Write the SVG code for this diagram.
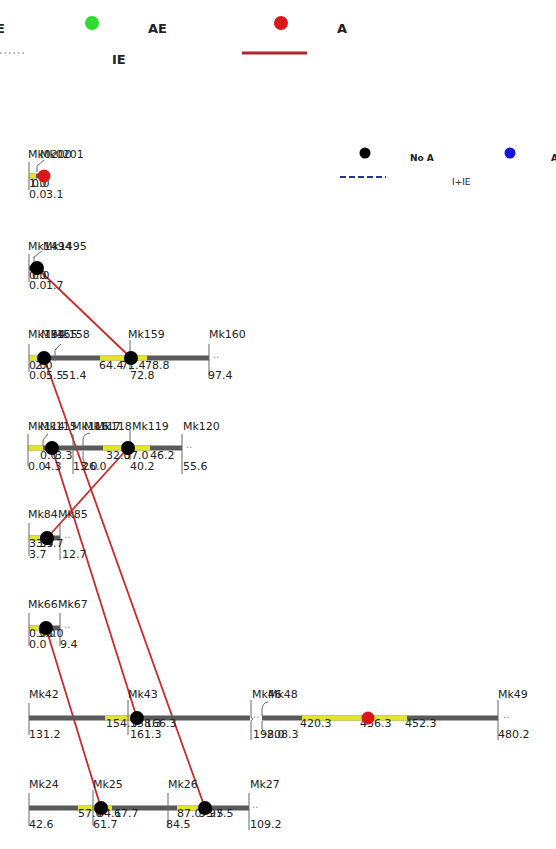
<svg xmlns="http://www.w3.org/2000/svg" width="556" height="849" viewBox="0 0 556 849">
<style>
.bar{fill:#5a5a5a}
.qtl{fill:#e4e42c}
.tk{stroke:#666;stroke-width:1;fill:none}
.t{font-family:"DejaVu Sans",Verdana,sans-serif;font-size:11px;fill:#222}
.lg{font-family:"DejaVu Sans",Verdana,sans-serif;font-size:13px;font-weight:bold;fill:#222}
.ls{font-family:"DejaVu Sans",Verdana,sans-serif;font-size:9px;fill:#222}
.dt{font-family:"DejaVu Sans",sans-serif;font-size:10px;fill:#888}
.dk{fill:#000}
.dr{fill:#d81818}
.link{stroke:#cc2a2a;stroke-width:1.8;fill:none}
</style>
<rect width="556" height="849" fill="#fff"/>
<g id="legend">
  <text class="lg" x="-4" y="33">E</text>
  <line x1="0" y1="53" x2="26" y2="53" stroke="#999" stroke-width="1.5" stroke-dasharray="1.5 3"/>
  <circle cx="92" cy="23" r="7" fill="#2ddc2d"/>
  <text class="lg" x="148" y="33">AE</text>
  <text class="lg" x="112" y="64" font-weight="normal">IE</text>
  <circle cx="281" cy="23" r="7" fill="#d81818"/>
  <text class="lg" x="337" y="33">A</text>
  <line x1="242" y1="53" x2="307" y2="53" stroke="#b02828" stroke-width="3"/>
  <circle cx="365" cy="153" r="5.5" fill="#000"/>
  <text class="ls" x="410" y="161" font-weight="bold">No A</text>
  <circle cx="510" cy="153" r="5.5" fill="#1414dc"/>
  <text class="ls" x="551" y="161" font-weight="bold">A</text>
  <line x1="340" y1="177" x2="386" y2="177" stroke="#223399" stroke-width="2" stroke-dasharray="6 3"/>
  <text class="ls" x="452" y="185">I+IE</text>
</g>
<g id="connectors">
  <line class="link" x1="37" y1="268" x2="131" y2="358"/>
  <line class="link" x1="44" y1="358" x2="205" y2="808"/>
  <line class="link" x1="52" y1="448" x2="137" y2="718"/>
  <line class="link" x1="128" y1="448" x2="47" y2="538"/>
  <line class="link" x1="46" y1="628" x2="101" y2="808"/>
</g>
<g id="chr1">
  <rect class="bar" x="29" y="173.5" width="9" height="5"/>
  <rect class="qtl" x="29" y="173.5" width="7" height="5"/>
  <line class="tk" x1="29" y1="162" x2="29" y2="190"/>
  <polyline class="tk" points="37,172 37,166 44,160"/>
  <text class="t" x="28" y="158">Mk0200</text>
  <text class="t" x="40" y="158">Mk0201</text>
  <text class="t" x="29" y="187">1.0</text>
  <text class="t" x="32" y="187">0.0</text>
  <text class="t" x="29" y="198">0.0</text>
  <text class="t" x="46" y="198">3.1</text>
  <circle class="dr" cx="44" cy="176" r="6.5"/>
</g>
<g id="chr2">
  <rect class="bar" x="29" y="265.5" width="9" height="5"/>
  <line class="tk" x1="29" y1="254" x2="29" y2="282"/>
  <polyline class="tk" points="34,266 34,257 42,251"/>
  <text class="t" x="28" y="250">Mk1494</text>
  <text class="t" x="43" y="250">Mk1495</text>
  <text class="t" x="29" y="279">0.0</text>
  <text class="t" x="32" y="279">0.0</text>
  <text class="t" x="29" y="289">0.0</text>
  <text class="t" x="46" y="289">1.7</text>
  <circle class="dk" cx="37" cy="268" r="7"/>
</g>
<g id="chr3">
  <rect class="bar" x="29" y="355.5" width="180" height="5"/>
  <rect class="qtl" x="29" y="355.5" width="10" height="5"/>
  <rect class="qtl" x="100" y="355.5" width="47" height="5"/>
  <line class="tk" x1="29" y1="344" x2="29" y2="372"/>
  <line class="tk" x1="130" y1="340" x2="130" y2="370"/>
  <line class="tk" x1="209" y1="344" x2="209" y2="378"/>
  <polyline class="tk" points="55,361 55,350 61,344"/>
  <text class="t" x="28" y="338">Mk154</text>
  <text class="t" x="41" y="338">Mk155</text>
  <text class="t" x="53" y="338">Mk158</text>
  <text class="t" x="128" y="338">Mk159</text>
  <text class="t" x="209" y="338">Mk160</text>
  <text class="t" x="29" y="369">0.0</text>
  <text class="t" x="35" y="369">2.0</text>
  <text class="t" x="99" y="369">64.4</text>
  <text class="t" x="121" y="369">71.4</text>
  <text class="t" x="145" y="369">78.8</text>
  <text class="t" x="29" y="379">0.0</text>
  <text class="t" x="46" y="379">5.5</text>
  <text class="t" x="62" y="379">51.4</text>
  <text class="t" x="130" y="379">72.8</text>
  <text class="t" x="208" y="379">97.4</text>
  <text class="dt" x="213" y="358">..</text>
  <circle class="dk" cx="44" cy="358" r="7"/>
  <circle class="dk" cx="131" cy="358" r="7"/>
</g>
<g id="chr4">
  <rect class="bar" x="28" y="445.5" width="154" height="5"/>
  <rect class="qtl" x="28" y="445.5" width="15" height="5"/>
  <rect class="qtl" x="103" y="445.5" width="47" height="5"/>
  <line class="tk" x1="28" y1="434" x2="28" y2="466"/>
  <line class="tk" x1="73" y1="434" x2="73" y2="474"/>
  <line class="tk" x1="130" y1="430" x2="130" y2="460"/>
  <line class="tk" x1="182" y1="434" x2="182" y2="474"/>
  <polyline class="tk" points="43,446 43,440 48,434"/>
  <path class="tk" d="M83,446 L83,440 Q83,434 90,433"/>
  <path class="tk" d="M83,451 L83,458 Q83,463 88,464"/>
  <text class="t" x="28" y="430">Mk114</text>
  <text class="t" x="40" y="430">Mk115</text>
  <text class="t" x="72" y="430">Mk116</text>
  <text class="t" x="84" y="430">Mk117</text>
  <text class="t" x="95" y="430">Mk118</text>
  <text class="t" x="132" y="430">Mk119</text>
  <text class="t" x="183" y="430">Mk120</text>
  <text class="t" x="40" y="459">0.0</text>
  <text class="t" x="55" y="459">3.3</text>
  <text class="t" x="106" y="459">32.0</text>
  <text class="t" x="124" y="459">37.0</text>
  <text class="t" x="150" y="459">46.2</text>
  <text class="t" x="28" y="470">0.0</text>
  <text class="t" x="44" y="470">4.3</text>
  <text class="t" x="73" y="470">13.0</text>
  <text class="t" x="82" y="470">26.0</text>
  <text class="t" x="130" y="470">40.2</text>
  <text class="t" x="183" y="470">55.6</text>
  <text class="dt" x="186" y="448">..</text>
  <circle class="dk" cx="52" cy="448" r="7"/>
  <circle class="dk" cx="128" cy="448" r="7"/>
</g>
<g id="chr5">
  <rect class="bar" x="29" y="535.5" width="31" height="5"/>
  <rect class="qtl" x="29" y="535.5" width="11" height="5"/>
  <line class="tk" x1="29" y1="523" x2="29" y2="556"/>
  <line class="tk" x1="60" y1="523" x2="60" y2="560"/>
  <text class="t" x="28" y="518">Mk84</text>
  <text class="t" x="58" y="518">Mk85</text>
  <text class="t" x="29" y="547">3.3</text>
  <text class="t" x="36" y="547">3.9</text>
  <text class="t" x="46" y="547">4.7</text>
  <text class="t" x="29" y="558">3.7</text>
  <text class="t" x="62" y="558">12.7</text>
  <text class="dt" x="64" y="538">..</text>
  <circle class="dk" cx="47" cy="538" r="7"/>
</g>
<g id="chr6">
  <rect class="bar" x="29" y="625.5" width="31" height="5"/>
  <rect class="qtl" x="29" y="625.5" width="11" height="5"/>
  <line class="tk" x1="29" y1="613" x2="29" y2="646"/>
  <line class="tk" x1="60" y1="613" x2="60" y2="646"/>
  <text class="t" x="28" y="608">Mk66</text>
  <text class="t" x="58" y="608">Mk67</text>
  <text class="t" x="29" y="637">0.0</text>
  <text class="t" x="38" y="637">5.0</text>
  <text class="t" x="46" y="637">6.0</text>
  <text class="t" x="29" y="648">0.0</text>
  <text class="t" x="60" y="648">9.4</text>
  <text class="dt" x="64" y="628">..</text>
  <circle class="dk" cx="46" cy="628" r="7"/>
</g>
<g id="chr7">
  <rect class="bar" x="29" y="715.5" width="221" height="5"/>
  <rect class="bar" x="262" y="715.5" width="236" height="5"/>
  <rect class="qtl" x="105" y="715.5" width="35" height="5"/>
  <rect class="qtl" x="302" y="715.5" width="105" height="5"/>
  <line class="tk" x1="29" y1="703" x2="29" y2="735"/>
  <line class="tk" x1="128" y1="700" x2="128" y2="735"/>
  <path class="tk" d="M251,700 L251,716 Q251,718 253,719 Q251,720 251,722 L251,740"/>
  <path class="tk" d="M262,716 L262,710 Q262,703 268,702"/>
  <path class="tk" d="M262,721 L262,728 Q262,733 267,734"/>
  <line class="tk" x1="498" y1="700" x2="498" y2="740"/>
  <text class="t" x="29" y="698">Mk42</text>
  <text class="t" x="128" y="698">Mk43</text>
  <text class="t" x="252" y="698">Mk46</text>
  <text class="t" x="268" y="698">Mk48</text>
  <text class="t" x="498" y="698">Mk49</text>
  <text class="t" x="106" y="727">154.3</text>
  <text class="t" x="130" y="727">158.3</text>
  <text class="t" x="145" y="727">166.3</text>
  <text class="t" x="300" y="727">420.3</text>
  <text class="t" x="360" y="727">436.3</text>
  <text class="t" x="405" y="727">452.3</text>
  <text class="t" x="29" y="738">131.2</text>
  <text class="t" x="130" y="738">161.3</text>
  <text class="t" x="253" y="738">198.0</text>
  <text class="t" x="267" y="738">208.3</text>
  <text class="t" x="498" y="738">480.2</text>
  <text class="dt" x="253" y="718">..</text>
  <text class="dt" x="503" y="718">..</text>
  <circle class="dk" cx="137" cy="718" r="7"/>
  <circle class="dr" cx="368" cy="718" r="6.5"/>
</g>
<g id="chr8">
  <rect class="bar" x="29" y="805.5" width="220" height="5"/>
  <rect class="qtl" x="78" y="805.5" width="34" height="5"/>
  <rect class="qtl" x="177" y="805.5" width="28" height="5"/>
  <line class="tk" x1="29" y1="793" x2="29" y2="826"/>
  <line class="tk" x1="93" y1="790" x2="93" y2="826"/>
  <line class="tk" x1="168" y1="793" x2="168" y2="826"/>
  <line class="tk" x1="249" y1="793" x2="249" y2="830"/>
  <text class="t" x="29" y="788">Mk24</text>
  <text class="t" x="93" y="788">Mk25</text>
  <text class="t" x="168" y="788">Mk26</text>
  <text class="t" x="250" y="788">Mk27</text>
  <text class="t" x="78" y="817">57.0</text>
  <text class="t" x="97" y="817">64.1</text>
  <text class="t" x="114" y="817">67.7</text>
  <text class="t" x="177" y="817">87.0</text>
  <text class="t" x="199" y="817">93.5</text>
  <text class="t" x="209" y="817">97.5</text>
  <text class="t" x="29" y="828">42.6</text>
  <text class="t" x="93" y="828">61.7</text>
  <text class="t" x="166" y="828">84.5</text>
  <text class="t" x="250" y="828">109.2</text>
  <text class="dt" x="252" y="808">..</text>
  <circle class="dk" cx="101" cy="808" r="7"/>
  <circle class="dk" cx="205" cy="808" r="7"/>
</g>
</svg>
